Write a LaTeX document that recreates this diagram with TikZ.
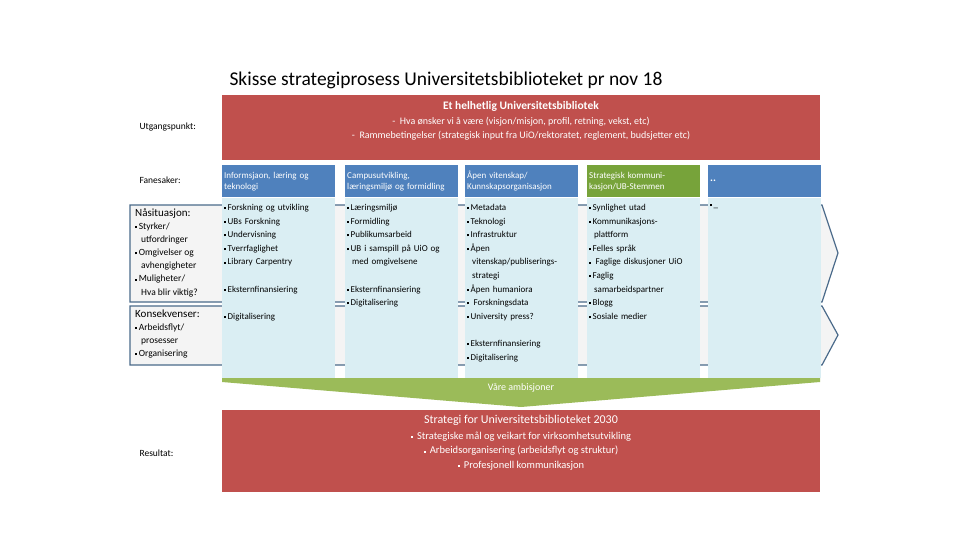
\documentclass[tikz,border=0pt]{standalone}
\usepackage{fontspec}
\setmainfont{Carlito}
\definecolor{ured}{HTML}{C0504D}
\definecolor{ublue}{HTML}{4F81BD}
\definecolor{ugreen}{HTML}{77A33A}
\definecolor{ulgreen}{HTML}{9BBB59}
\definecolor{ulight}{HTML}{DAEEF3}
\definecolor{uchev}{HTML}{F4F4F4}
\definecolor{uedge}{HTML}{4A6A8A}
\newcommand{\bl}{\rule[1.2pt]{2pt}{2pt}\,}
\begin{document}
\begin{tikzpicture}[x=1pt,y=-1pt,
  hdr/.style={anchor=north west,fill=ublue,text=white,minimum height=32pt,text width=109pt,inner xsep=2pt,inner ysep=3pt,font=\fontsize{9}{11}\selectfont,align=left},
  coltxt/.style={anchor=north west,text width=112pt,inner sep=2pt,font=\fontsize{9}{13.6}\selectfont,align=left},
  lab/.style={anchor=west,font=\fontsize{9.5}{11}\selectfont},
  chev/.style={fill=uchev,draw=uedge,line width=1.2pt}]
\useasboundingbox (0,0) rectangle (960,540);
\node[anchor=west,font=\fontsize{19.5}{22}\selectfont] (title) at (226,80) {Skisse strategiprosess Universitetsbiblioteket pr nov 18};
\node[fill=ured,anchor=north west,minimum width=598pt,minimum height=65pt,inner sep=0] (top) at (222,95) {};
\node[text=white,font=\bfseries\fontsize{11.5}{13}\selectfont] (toph) at (521,106) {Et helhetlig Universitetsbibliotek};
\node[text=white,font=\fontsize{10}{14}\selectfont,align=center] (topt) at (521,129) {- \ Hva ønsker vi å være (visjon/misjon, profil, retning, vekst, etc)\\ - \ Rammebetingelser (strategisk input fra UiO/rektoratet, reglement, budsjetter etc)};
\node[lab] (l1) at (136,127) {Utgangspunkt:};
\node[lab] (l2) at (136,180) {Fanesaker:};
\node[lab] (l3) at (136,453) {Resultat:};
% chevrons
\draw[chev] (130,205) -- (822,205) -- (838,253) -- (822,302) -- (130,302) -- cycle;
\draw[chev] (130,306) -- (822,306) -- (838,335) -- (822,365) -- (130,365) -- cycle;
\node[anchor=north west,align=left,inner sep=2pt,font=\fontsize{9.5}{13.2}\selectfont] (nas) at (133,207) {\fontsize{11}{13}\selectfont Nåsituasjon:\\[-1pt]\bl Styrker/\\\hspace*{6pt}utfordringer\\\bl Omgivelser og\\\hspace*{6pt}avhengigheter\\\bl Muligheter/\\\hspace*{6pt}Hva blir viktig?};
\node[anchor=north west,align=left,inner sep=2pt,font=\fontsize{9.5}{13.2}\selectfont] (kon) at (133,308) {\fontsize{11}{13}\selectfont Konsekvenser:\\[-1pt]\bl Arbeidsflyt/\\\hspace*{6pt}prosesser\\\bl Organisering};
% columns
\foreach \x in {222,345,465,587,708}{
  \fill[ulight] (\x,198) rectangle ++(113,180);
}
\node[hdr] (h1) at (222,165) {Informsjaon, læring og\\teknologi};
\node[hdr] (h2) at (345,165) {Campusutvikling,\\læringsmiljø og formidling};
\node[hdr] (h3) at (465,165) {Åpen vitenskap/\\Kunnskapsorganisasjon};
\node[hdr,fill=ugreen] (h4) at (587,165) {Strategisk kommuni-\\kasjon/UB-Stemmen};
\node[hdr,font=\bfseries\fontsize{11}{13}\selectfont] (h5) at (708,165) {..};
\node[coltxt] (c1) at (222,202) {\bl Forskning og utvikling\\\bl UBs Forskning\\\bl Undervisning\\\bl Tverrfaglighet\\\bl Library Carpentry\\[13.6pt]\bl Eksternfinansiering\\[13.6pt]\bl Digitalisering};
\node[coltxt] (c2) at (345,202) {\bl Læringsmiljø\\\bl Formidling\\\bl Publikumsarbeid\\\bl UB i samspill på UiO og\\\hspace*{5pt}med omgivelsene\\[13.6pt]\bl Eksternfinansiering\\\bl Digitalisering};
\node[coltxt] (c3) at (465,202) {\bl Metadata\\\bl Teknologi\\\bl Infrastruktur\\\bl Åpen\\\hspace*{5pt}vitenskap/publiserings-\\\hspace*{5pt}strategi\\\bl Åpen humaniora\\\bl\ Forskningsdata\\\bl University press?\\[13.6pt]\bl Eksternfinansiering\\\bl Digitalisering};
\node[coltxt] (c4) at (587,202) {\bl Synlighet utad\\\bl Kommunikasjons-\\\hspace*{5pt}plattform\\\bl Felles språk\\\bl\ Faglige diskusjoner UiO\\\bl Faglig\\\hspace*{5pt}samarbeidspartner\\\bl Blogg\\\bl Sosiale medier};
\node[coltxt] (c5) at (708,202) {\bl \_};
% green arrow
\fill[ulgreen] (222,378) -- (820,378) -- (820,382) -- (521,407) -- (222,382) -- cycle;
\node[text=white,font=\fontsize{10}{11}\selectfont] (amb) at (521,388) {Våre ambisjoner};
% bottom
\node[fill=ured,anchor=north west,minimum width=598pt,minimum height=82pt,inner sep=0] (bot) at (222,410) {};
\node[text=white,font=\fontsize{12}{14}\selectfont] (both) at (521,420) {Strategi for Universitetsbiblioteket 2030};
\node[text=white,font=\fontsize{10.5}{14.5}\selectfont,align=center] (bott) at (521,451) {\bl\ Strategiske mål og veikart for virksomhetsutvikling\\\bl\ Arbeidsorganisering (arbeidsflyt og struktur)\\\bl\ Profesjonell kommunikasjon};
\end{tikzpicture}
\end{document}
